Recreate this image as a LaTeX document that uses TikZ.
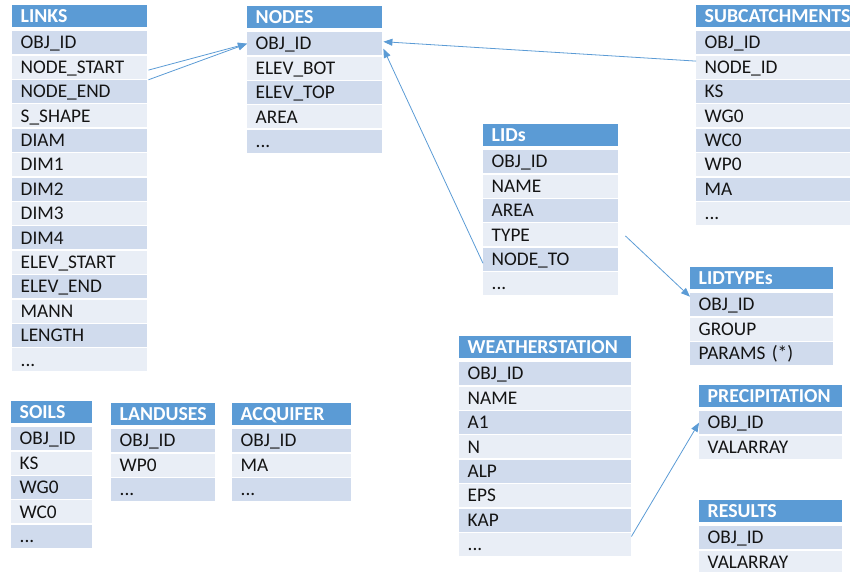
\documentclass[tikz,border=0pt]{standalone}
\usepackage{fontspec}
\setmainfont{Carlito}
\usetikzlibrary{arrows.meta,calc}
\definecolor{hdrblue}{HTML}{5B9BD5}
\definecolor{rowdark}{HTML}{D0DBED}
\definecolor{rowlight}{HTML}{E9EEF6}
\definecolor{linkblue}{HTML}{5B9BD5}
\definecolor{celltext}{HTML}{141414}
\newcommand\tdots{...}
\tikzset{
  hdrbox/.style={anchor=north west, fill=hdrblue, text=white,
    font=\bfseries\fontsize{19.8}{21}\selectfont, minimum height=21.5pt,
    inner xsep=8.5pt, inner ysep=0pt, align=left, text height=12.6pt, text depth=0pt},
  cellbox/.style={anchor=north west, text=celltext,
    font=\fontsize{19.3}{21}\selectfont, minimum height=23pt,
    inner xsep=8.5pt, inner ysep=0pt, align=left, text height=12.4pt, text depth=0pt},
  relarrow/.style={draw=linkblue, line width=0.8pt, -{Triangle[length=9pt,width=7pt]}}
}
\newcommand\dbtable[6]{%
  \pgfmathsetmacro\tblw{#3-#2}%
  \pgfmathsetmacro\tbltw{#3-#2-17}%
  \node[hdrbox, minimum width=\tblw pt, text width=\tbltw pt] (#1-h) at (#2,#4) {#5};
  \foreach \r [count=\i] in {#6} {
    \ifodd\i \def\rs{rowdark}\else\def\rs{rowlight}\fi
    \node[cellbox, fill=\rs, minimum width=\tblw pt, text width=\tbltw pt]
      (#1-\i) at (#2, {#4+26+(\i-1)*24.4}) {\r};
  }%
}
\begin{document}
\begin{tikzpicture}[x=1pt, y=-1pt]
\useasboundingbox (0,0) rectangle (850,571);
\dbtable{links}{12}{147}{5}{LINKS}{OBJ\_ID,NODE\_START,NODE\_END,S\_SHAPE,DIAM,DIM1,DIM2,DIM3,DIM4,ELEV\_START,ELEV\_END,MANN,LENGTH,\tdots}
\dbtable{nodes}{247}{382}{6}{NODES}{OBJ\_ID,ELEV\_BOT,ELEV\_TOP,AREA,\tdots}
\dbtable{subc}{696}{850}{5}{SUBCATCHMENTS}{OBJ\_ID,NODE\_ID,KS,WG0,WC0,WP0,MA,\tdots}
\dbtable{lids}{483}{618}{124}{LIDs}{OBJ\_ID,NAME,AREA,TYPE,NODE\_TO,\tdots}
\dbtable{lidt}{690}{833}{267}{LIDTYPEs}{OBJ\_ID,GROUP,PARAMS (*)}
\dbtable{ws}{459}{631}{336}{WEATHERSTATION}{OBJ\_ID,NAME,A1,N,ALP,EPS,KAP,\tdots}
\dbtable{prec}{699}{842}{385}{PRECIPITATION}{OBJ\_ID,VALARRAY}
\dbtable{res}{699}{842}{500}{RESULTS}{OBJ\_ID,VALARRAY}
\dbtable{soils}{11}{92}{401}{SOILS}{OBJ\_ID,KS,WG0,WC0,\tdots}
\dbtable{land}{111}{215}{403}{LANDUSES}{OBJ\_ID,WP0,\tdots}
\dbtable{acq}{232}{351}{403}{ACQUIFER}{OBJ\_ID,MA,\tdots}
% connectors
\draw[relarrow] ($(links-2.east)+(1,3)$) -- ($(nodes-1.west)+(0,0)$);
\draw[relarrow] ($(links-3.north east)+(1,0)$) -- ($(nodes-1.west)+(0,0)$);
\draw[relarrow] ($(subc-2.west)+(0,-6)$) -- ($(nodes-1.east)+(1,-2)$);
\draw[relarrow] ($(lids-5.west)+(0,4)$) -- ($(nodes-1.east)+(1,5)$);
\coordinate (typeout) at ($(lids-4.east)+(7,1)$);
\draw[relarrow] (typeout) -- ($(lidt-1.west)+(0,-8)$);
\draw[relarrow] ($(ws-8.east)+(0,-8)$) -- (prec-1.west);
\end{tikzpicture}
\end{document}
